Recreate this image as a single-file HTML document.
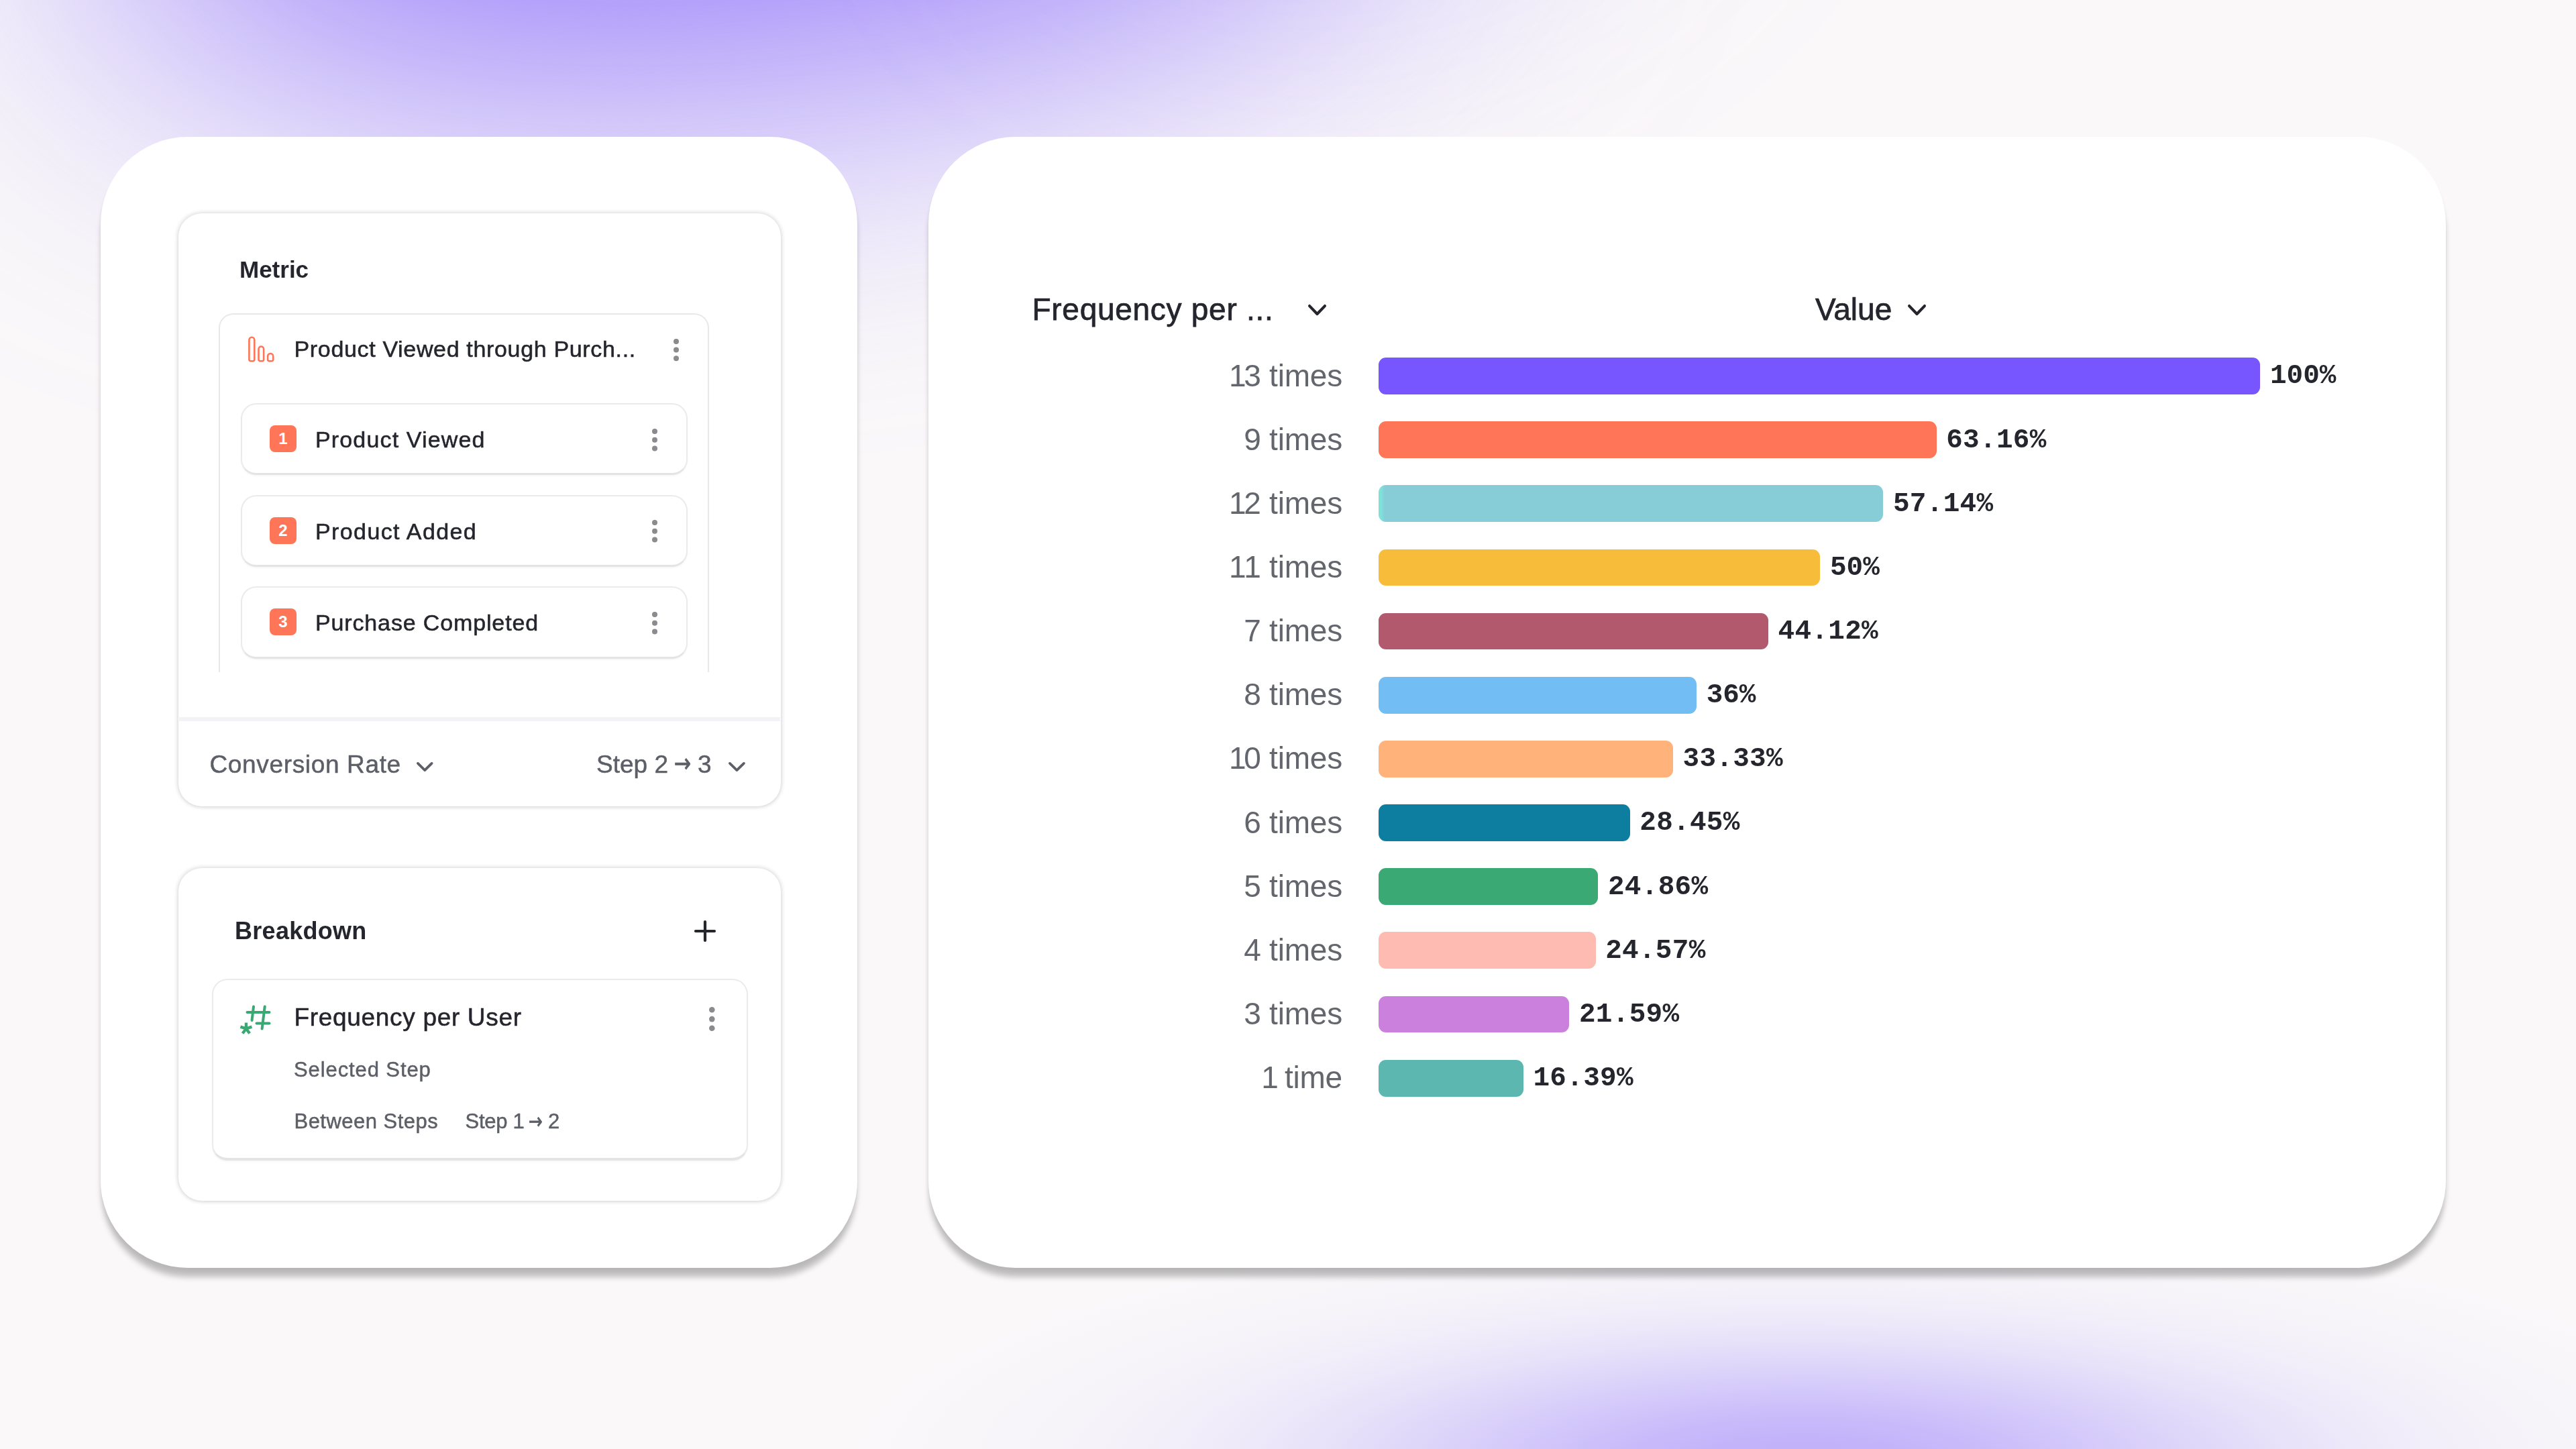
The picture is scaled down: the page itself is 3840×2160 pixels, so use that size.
<!DOCTYPE html>
<html lang="en">
<head>
<meta charset="utf-8">
<title>Funnel breakdown by frequency per user</title>
<style>
html,body{margin:0;padding:0}
body{width:3840px;height:2160px;position:relative;background:#faf8f9;
font-family:"Liberation Sans",sans-serif;color:#25262d}
.bg{position:absolute;left:0;top:0;width:3840px;height:2160px;overflow:hidden}
.g1{position:absolute;left:122px;top:-600px;width:1960px;height:700px;border-radius:50%;background:#8d71fb;filter:blur(250px);transform:rotate(-5deg)}
.gw{position:absolute;left:1450px;top:-700px;width:1150px;height:760px;border-radius:50%;background:#9c84fb;filter:blur(190px);opacity:.09;transform:rotate(-10deg)}
.g2{position:absolute;left:0;top:1500px;width:3840px;height:660px;background:radial-gradient(ellipse 1420px 365px at 2687px 682px,rgba(179,160,251,0.820) 0%,rgba(179,160,251,0.784) 10%,rgba(179,160,251,0.685) 20%,rgba(179,160,251,0.547) 30%,rgba(179,160,251,0.399) 40%,rgba(179,160,251,0.266) 50%,rgba(179,160,251,0.162) 60%,rgba(179,160,251,0.090) 70%,rgba(179,160,251,0.046) 80%,rgba(179,160,251,0.021) 90%,rgba(179,160,251,0.000) 100%)}
.a{position:absolute;display:block}
.tl{position:absolute;left:0;top:0;width:3840px;height:2160px;will-change:transform}
.t{position:absolute;white-space:nowrap;line-height:1;display:block}
.s3{-webkit-text-stroke:.55px #25262d}
.g3{-webkit-text-stroke:.5px #5d5f67}
.s7{-webkit-text-stroke:.75px #25262d}
.ar{font-family:"DejaVu Sans",sans-serif;transform-origin:0 0;-webkit-text-stroke-width:.9px}
.m{font-family:"Liberation Mono",monospace;font-weight:700}
.card{position:absolute;background:#fff;border-radius:130px;box-shadow:0 15px 9px -1px rgba(0,0,0,.22),0 8px 8px -3px rgba(0,0,0,.07)}
.panel{position:absolute;background:#fff;border-radius:35px;box-shadow:0 0 6px .5px rgba(0,0,0,.16),0 2px 4px rgba(0,0,0,.03)}
.item{position:absolute;background:#fff;border:2.3px solid #ebebed;border-bottom:3.6px solid #e4e4e6;border-radius:23px;box-sizing:border-box;box-shadow:0 2px 2px rgba(0,0,0,.035)}
.badge{position:absolute;width:40px;height:40px;border-radius:8px;background:#ff7557;color:#fff;font-weight:700;font-size:24px;line-height:40.5px;text-align:center}
.bar{position:absolute;left:2055.2px;height:54.8px;border-radius:11px}
</style>
</head>
<body>
<div class="bg"><div class="g1"></div><div class="gw"></div><div class="g2"></div></div>

<div class="card" style="left:150px;top:204px;width:1128px;height:1686px"></div>
<div class="panel" style="left:266px;top:318px;width:898px;height:884px"></div>
<div class="a" style="left:326.4px;top:467.3px;width:731px;height:534.5px;box-sizing:border-box;border:2.6px solid #e8e8ea;border-bottom:none;border-radius:22px 22px 0 0"></div>
<svg class="a" style="left:368px;top:499px" width="44" height="44" viewBox="0 0 44 44">
<g fill="none" stroke="#ff7557" stroke-width="2.6">
<path d="M3.4 36.90V7.65A3.95 3.95 0 0 1 11.3 7.65V36.90A2.4 2.4 0 0 1 8.90 39.3H5.80A2.4 2.4 0 0 1 3.4 36.90Z"/>
<path d="M17.5 36.90V21.30A3.80 3.80 0 0 1 25.1 21.30V36.90A2.4 2.4 0 0 1 22.70 39.3H19.90A2.4 2.4 0 0 1 17.5 36.90Z"/>
<path d="M31.1 36.90V32.05A4.05 4.05 0 0 1 39.2 32.05V36.90A2.4 2.4 0 0 1 36.80 39.3H33.50A2.4 2.4 0 0 1 31.1 36.90Z"/>
</g></svg>
<svg class="a" style="left:1003.40px;top:504.20px" width="10.00" height="35.20"><circle cx="5.00" cy="5.00" r="4.0" fill="#8b8b8f"/><circle cx="5.00" cy="17.60" r="4.0" fill="#8b8b8f"/><circle cx="5.00" cy="30.20" r="4.0" fill="#8b8b8f"/></svg>
<div class="item" style="left:359.3px;top:600.9px;width:665.3px;height:107.4px"></div>
<div class="badge" style="left:402px;top:634.1px">1</div>
<svg class="a" style="left:970.50px;top:637.80px" width="10.00" height="35.60"><circle cx="5.00" cy="5.00" r="4.0" fill="#8b8b8f"/><circle cx="5.00" cy="17.80" r="4.0" fill="#8b8b8f"/><circle cx="5.00" cy="30.60" r="4.0" fill="#8b8b8f"/></svg>
<div class="item" style="left:359.3px;top:737.5px;width:665.3px;height:107.4px"></div>
<div class="badge" style="left:402px;top:770.7px">2</div>
<svg class="a" style="left:970.50px;top:774.40px" width="10.00" height="35.60"><circle cx="5.00" cy="5.00" r="4.0" fill="#8b8b8f"/><circle cx="5.00" cy="17.80" r="4.0" fill="#8b8b8f"/><circle cx="5.00" cy="30.60" r="4.0" fill="#8b8b8f"/></svg>
<div class="item" style="left:359.3px;top:874.2px;width:665.3px;height:107.4px"></div>
<div class="badge" style="left:402px;top:907.4px">3</div>
<svg class="a" style="left:970.50px;top:911.10px" width="10.00" height="35.60"><circle cx="5.00" cy="5.00" r="4.0" fill="#8b8b8f"/><circle cx="5.00" cy="17.80" r="4.0" fill="#8b8b8f"/><circle cx="5.00" cy="30.60" r="4.0" fill="#8b8b8f"/></svg>
<div class="a" style="left:267px;top:1069px;width:896px;height:6px;background:#f4f2f6"></div>
<svg class="a" style="left:617.00px;top:1131.50px" width="32.50" height="22.80"><path d="M5.90 5.90 L16.25 16.09 L26.60 5.90" fill="none" stroke="#5d5f67" stroke-width="3.8" stroke-linecap="round" stroke-linejoin="round"/></svg>
<svg class="a" style="left:1081.50px;top:1131.50px" width="32.80" height="22.80"><path d="M5.90 5.90 L16.40 16.09 L26.90 5.90" fill="none" stroke="#5d5f67" stroke-width="3.8" stroke-linecap="round" stroke-linejoin="round"/></svg>
<div class="panel" style="left:266px;top:1293.5px;width:898px;height:496.5px"></div>
<svg class="a" style="left:1033.2px;top:1369.7px" width="36" height="36"><path d="M18 4V32M4 18H32" stroke="#25262d" stroke-width="4.2" stroke-linecap="round" fill="none"/></svg>
<div class="item" style="left:316.2px;top:1459.2px;width:798.4px;height:270.9px;border-radius:23px;border-bottom-width:4px"></div>
<svg class="a" style="left:354px;top:1494px" width="54" height="54" viewBox="0 0 54 54">
<g stroke="#3aa873" stroke-width="4" stroke-linecap="round" fill="none">
<path d="M14.5 15H47.5"/>
<path d="M28.5 31.5H47.5"/>
<path d="M24 6.5L21.5 27"/>
<path d="M40.7 6.5L36.6 39.5"/>
<path d="M12.9 30.5V39.4M12.9 39.4L4.4 36.6M12.9 39.4L21.4 36.6M12.9 39.4L7.6 46.6M12.9 39.4L18.2 46.6" stroke-width="4.3" stroke-linecap="butt"/>
</g></svg>
<svg class="a" style="left:1055.60px;top:1499.50px" width="10.60" height="38.00"><circle cx="5.30" cy="5.30" r="4.3" fill="#8b8b8f"/><circle cx="5.30" cy="19.10" r="4.3" fill="#8b8b8f"/><circle cx="5.30" cy="32.70" r="4.3" fill="#8b8b8f"/></svg>
<div class="card" style="left:1384px;top:204px;width:2262px;height:1686px"></div>
<svg class="a" style="left:1945.50px;top:450.00px" width="35.00" height="25.00"><path d="M6.10 6.10 L17.50 18.00 L28.90 6.10" fill="none" stroke="#25262d" stroke-width="4.2" stroke-linecap="round" stroke-linejoin="round"/></svg>
<svg class="a" style="left:2839.50px;top:449.50px" width="35.00" height="25.00"><path d="M6.10 6.10 L17.50 18.00 L28.90 6.10" fill="none" stroke="#25262d" stroke-width="4.2" stroke-linecap="round" stroke-linejoin="round"/></svg>
<div class="bar" style="top:533.10px;width:1314.3px;background:#7856ff"></div>
<div class="bar" style="top:628.25px;width:831.5px;background:#ff7557"></div>
<div class="bar" style="top:723.40px;width:752.2px;background:linear-gradient(to right,#80e1d9 0,#80e1d9 4px,#86cdd8 9px)"></div>
<div class="bar" style="top:818.55px;width:658.2px;background:#f8bc3b"></div>
<div class="bar" style="top:913.70px;width:580.8px;background:#b2596e"></div>
<div class="bar" style="top:1008.85px;width:473.9px;background:#72bef4"></div>
<div class="bar" style="top:1104.00px;width:438.8px;background:#ffb27a"></div>
<div class="bar" style="top:1199.15px;width:374.5px;background:#0d7ea0"></div>
<div class="bar" style="top:1294.30px;width:327.3px;background:#3ba974"></div>
<div class="bar" style="top:1389.45px;width:323.5px;background:#febbb2"></div>
<div class="bar" style="top:1484.60px;width:284.2px;background:#ca80dc"></div>
<div class="bar" style="top:1579.75px;width:215.8px;background:#5bb7af"></div>
<div class="tl">
<span class="t" style="top:384.07px;font-size:35px;left:357.00px;font-weight:700;">Metric</span>
<span class="t s3" style="top:503.22px;font-size:34px;left:438.50px;color:#25262d;letter-spacing:0.66px;">Product Viewed through Purch...</span>
<span class="t s3" style="top:638.02px;font-size:34px;left:470.00px;color:#25262d;letter-spacing:1.15px;">Product Viewed</span>
<span class="t s3" style="top:774.62px;font-size:34px;left:470.00px;color:#25262d;letter-spacing:1.39px;">Product Added</span>
<span class="t s3" style="top:911.32px;font-size:34px;left:470.00px;color:#25262d;letter-spacing:0.86px;">Purchase Completed</span>
<span class="t g3" style="top:1120.88px;font-size:37px;left:312.50px;color:#5d5f67;letter-spacing:0.65px;">Conversion Rate</span>
<span class="t g3" style="top:1120.88px;font-size:37px;left:889.00px;color:#5d5f67;">Step 2</span>
<span class="t ar" style="left:1005.28px;top:1118.80px;font-size:38.32px;color:#5d5f67;transform:scaleX(0.784)">→</span>
<span class="t g3" style="top:1120.88px;font-size:37px;left:1040.00px;color:#5d5f67;">3</span>
<span class="t" style="top:1370.23px;font-size:36px;left:350.00px;font-weight:700;letter-spacing:0.29px;">Breakdown</span>
<span class="t s3" style="top:1498.28px;font-size:37px;left:438.50px;color:#25262d;letter-spacing:0.68px;">Frequency per User</span>
<span class="t g3" style="top:1578.56px;font-size:31px;left:438.00px;color:#5d5f67;letter-spacing:0.9px;">Selected Step</span>
<span class="t g3" style="top:1655.86px;font-size:31px;left:438.50px;color:#5d5f67;letter-spacing:0.47px;">Between Steps</span>
<span class="t g3" style="top:1655.86px;font-size:31px;left:693.50px;color:#5d5f67;letter-spacing:-0.3px;">Step 1</span>
<span class="t ar" style="left:787.60px;top:1655.88px;font-size:31.78px;color:#5d5f67;transform:scaleX(0.774)">→</span>
<span class="t g3" style="top:1655.86px;font-size:31px;left:817.00px;color:#5d5f67;">2</span>
<span class="t s7" style="top:438.36px;font-size:46px;left:1538.50px;color:#25262d;letter-spacing:0.72px;">Frequency per ...</span>
<span class="t s7" style="top:438.06px;font-size:46px;left:2706.00px;color:#25262d;">Value</span>
<span class="t" style="top:536.56px;font-size:46px;right:1839.00px;color:#64666d;letter-spacing:-0.2px;"><span style="letter-spacing:-3.5px">1</span>3 times</span>
<span class="t m" style="top:540.37px;font-size:41px;left:3384.00px;color:#25262d;letter-spacing:0px;">100%</span>
<span class="t" style="top:631.71px;font-size:46px;right:1839.00px;color:#64666d;letter-spacing:-0.2px;">9 times</span>
<span class="t m" style="top:635.52px;font-size:41px;left:2901.20px;color:#25262d;letter-spacing:0.3px;">63.16%</span>
<span class="t" style="top:726.86px;font-size:46px;right:1839.00px;color:#64666d;letter-spacing:-0.2px;"><span style="letter-spacing:-3.5px">1</span>2 times</span>
<span class="t m" style="top:730.67px;font-size:41px;left:2821.95px;color:#25262d;letter-spacing:0.3px;">57.14%</span>
<span class="t" style="top:822.01px;font-size:46px;right:1839.00px;color:#64666d;letter-spacing:-0.2px;"><span style="letter-spacing:-3.5px">1</span>1 times</span>
<span class="t m" style="top:825.82px;font-size:41px;left:2727.95px;color:#25262d;letter-spacing:0px;">50%</span>
<span class="t" style="top:917.16px;font-size:46px;right:1839.00px;color:#64666d;letter-spacing:-0.2px;">7 times</span>
<span class="t m" style="top:920.97px;font-size:41px;left:2650.54px;color:#25262d;letter-spacing:0.3px;">44.12%</span>
<span class="t" style="top:1012.31px;font-size:46px;right:1839.00px;color:#64666d;letter-spacing:-0.2px;">8 times</span>
<span class="t m" style="top:1016.12px;font-size:41px;left:2543.64px;color:#25262d;letter-spacing:0px;">36%</span>
<span class="t" style="top:1107.46px;font-size:46px;right:1839.00px;color:#64666d;letter-spacing:-0.2px;"><span style="letter-spacing:-3.5px">1</span>0 times</span>
<span class="t m" style="top:1111.27px;font-size:41px;left:2508.49px;color:#25262d;letter-spacing:0.3px;">33.33%</span>
<span class="t" style="top:1202.61px;font-size:46px;right:1839.00px;color:#64666d;letter-spacing:-0.2px;">6 times</span>
<span class="t m" style="top:1206.42px;font-size:41px;left:2444.24px;color:#25262d;letter-spacing:0.3px;">28.45%</span>
<span class="t" style="top:1297.76px;font-size:46px;right:1839.00px;color:#64666d;letter-spacing:-0.2px;">5 times</span>
<span class="t m" style="top:1301.57px;font-size:41px;left:2396.98px;color:#25262d;letter-spacing:0.3px;">24.86%</span>
<span class="t" style="top:1392.91px;font-size:46px;right:1839.00px;color:#64666d;letter-spacing:-0.2px;">4 times</span>
<span class="t m" style="top:1396.72px;font-size:41px;left:2393.16px;color:#25262d;letter-spacing:0.3px;">24.57%</span>
<span class="t" style="top:1488.06px;font-size:46px;right:1839.00px;color:#64666d;letter-spacing:-0.2px;">3 times</span>
<span class="t m" style="top:1491.87px;font-size:41px;left:2353.93px;color:#25262d;letter-spacing:0.3px;">21.59%</span>
<span class="t" style="top:1583.21px;font-size:46px;right:1839.00px;color:#64666d;letter-spacing:-0.2px;"><span style="letter-spacing:-3.5px">1</span> time</span>
<span class="t m" style="top:1587.02px;font-size:41px;left:2285.47px;color:#25262d;letter-spacing:0.3px;">16.39%</span>
</div>
</body>
</html>
